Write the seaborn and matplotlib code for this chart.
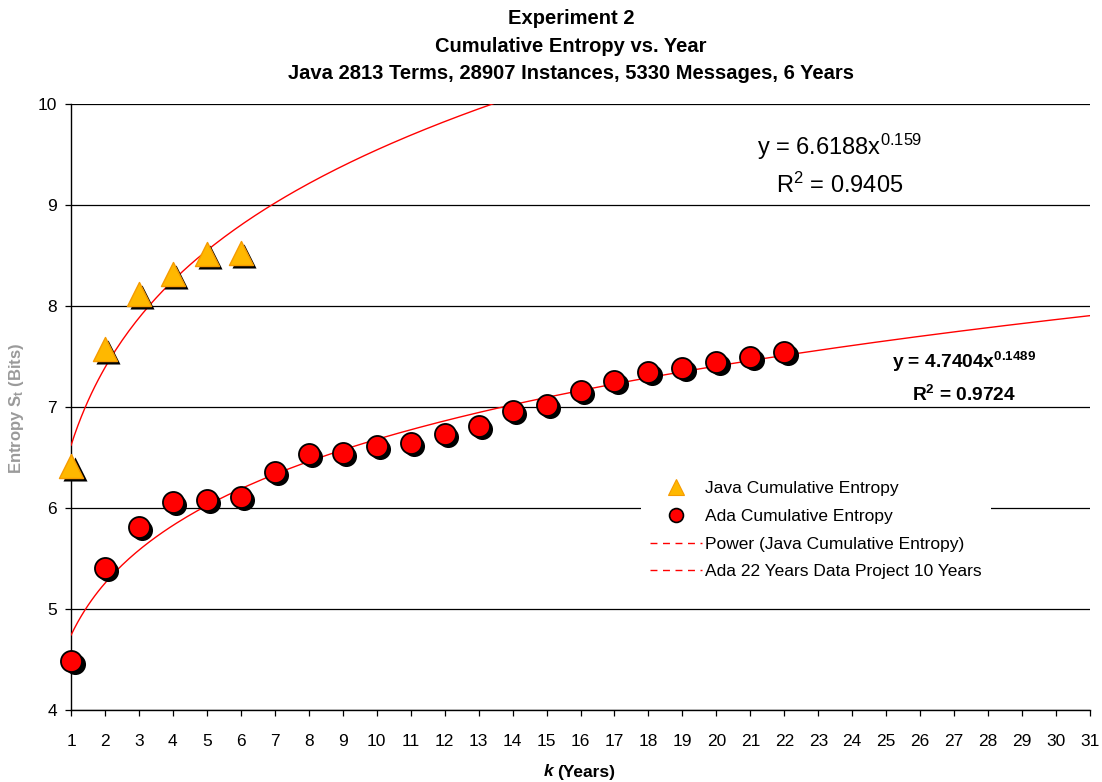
import numpy as np
import pandas as pd
import matplotlib
matplotlib.use("Agg")
import matplotlib.pyplot as plt
import matplotlib.transforms as mtransforms
from matplotlib.lines import Line2D
import seaborn as sns

# data
java_years = [1, 2, 3, 4, 5, 6]
java_entropy = [6.42, 7.57, 8.12, 8.32, 8.51, 8.52]

ada_years = list(range(1, 23))
ada_entropy = [4.49, 5.41, 5.81, 6.06, 6.08, 6.11, 6.36, 6.53, 6.54, 6.61, 6.64,
               6.73, 6.81, 6.96, 7.02, 7.16, 7.26, 7.35, 7.39, 7.45, 7.50, 7.54]

# power trendline coefficients shown on the chart
java_a, java_b = 6.6188, 0.159
ada_a, ada_b = 4.7404, 0.1489

df_java = pd.DataFrame({"k": java_years, "S": java_entropy})
df_ada = pd.DataFrame({"k": ada_years, "S": ada_entropy})
xs = np.linspace(1, 31, 300)
df_jfit = pd.DataFrame({"k": xs, "S": java_a * xs ** java_b})
df_afit = pd.DataFrame({"k": xs, "S": ada_a * xs ** ada_b})

sns.set_style("white")
plt.rcParams["font.family"] = ["Liberation Sans", "DejaVu Sans"]
plt.rcParams["mathtext.fontset"] = "custom"
plt.rcParams["mathtext.rm"] = "Liberation Sans"
plt.rcParams["mathtext.it"] = "Liberation Sans:italic"
plt.rcParams["mathtext.bf"] = "Liberation Sans:bold"
plt.rcParams["text.color"] = "black"

fig = plt.figure(figsize=(11.02, 7.82), dpi=100)
ax = fig.add_axes([71 / 1102, 72 / 782, 1019 / 1102, 606 / 782])

java_fill = "#FFB800"
java_edge = "#F59A00"
ada_fill = "#FF0000"

# trendlines
sns.lineplot(data=df_jfit, x="k", y="S", ax=ax, color="red", lw=1.0, zorder=3)
sns.lineplot(data=df_afit, x="k", y="S", ax=ax, color="red", lw=1.0, zorder=3)

shadow = mtransforms.offset_copy(ax.transData, fig=fig, x=3.5, y=-3.0, units="dots")

# Java triangles with shadow
sns.scatterplot(data=df_java, x="k", y="S", ax=ax, marker="^", s=300, color="black",
                edgecolor="black", linewidth=0, transform=shadow, zorder=4, clip_on=False)
sns.scatterplot(data=df_java, x="k", y="S", ax=ax, marker="^", s=300, color=java_fill,
                edgecolor=java_edge, linewidth=1.0, zorder=5, clip_on=False)

# Ada circles with shadow
sns.scatterplot(data=df_ada, x="k", y="S", ax=ax, marker="o", s=230, color="black",
                edgecolor="black", linewidth=0, transform=shadow, zorder=4, clip_on=False)
sns.scatterplot(data=df_ada, x="k", y="S", ax=ax, marker="o", s=230, color=ada_fill,
                edgecolor="black", linewidth=1.3, zorder=5, clip_on=False)

ax.set_xlim(1, 31)
ax.set_ylim(4, 10)
ax.set_xticks(range(1, 32))
ax.set_yticks(range(4, 11))
ax.yaxis.grid(True, color="black", lw=0.9)
ax.set_axisbelow(True)
for side in ["top", "right"]:
    ax.spines[side].set_visible(False)
for side in ["left", "bottom"]:
    ax.spines[side].set_color("black")
    ax.spines[side].set_linewidth(1.0)
ax.tick_params(axis="both", direction="out", length=4, width=0.9, color="black",
               labelsize=12.5, labelcolor="black", left=True, bottom=True)
ax.tick_params(axis="x", pad=13)
ax.tick_params(axis="y", pad=6)
ax.set_xlabel("")
ax.set_ylabel("")

# title
fig.text(0.518, 0.988, "Experiment 2\nCumulative Entropy vs. Year\n"
         "Java 2813 Terms, 28907 Instances, 5330 Messages, 6 Years",
         ha="center", va="top", fontsize=14.5, fontweight="bold", linespacing=1.55)

# axis labels
fig.text(553 / 1102, 1 - 772 / 782, "k", ha="right", va="center",
         fontsize=12.5, fontweight="bold", style="italic")
fig.text(557 / 1102, 1 - 772 / 782, "(Years)", ha="left", va="center",
         fontsize=12.5, fontweight="bold")
fig.text(17 / 1102, 1 - 408 / 782, "Entropy S$_\\mathbf{t}$ (Bits)", ha="center", va="center",
         rotation=90, fontsize=12, fontweight="bold", color="#9a9a9a")

# trendline equations
fig.text(840 / 1102, 1 - 147 / 782, "y = 6.6188x$^{\\mathrm{0.159}}$",
         ha="center", va="center", fontsize=17)
fig.text(840 / 1102, 1 - 185 / 782, "R$^{\\mathrm{2}}$ = 0.9405",
         ha="center", va="center", fontsize=17)
fig.text(964 / 1102, 1 - 362 / 782, "y = 4.7404x$^{\\mathbf{0.1489}}$",
         ha="center", va="center", fontsize=13.8, fontweight="bold")
fig.text(964 / 1102, 1 - 395 / 782, "R$^{\\mathbf{2}}$ = 0.9724",
         ha="center", va="center", fontsize=13.8, fontweight="bold")

# legend
handles = [
    Line2D([], [], ls="none", marker="^", ms=11, mfc=java_fill, mec=java_edge, mew=0.8),
    Line2D([], [], ls="none", marker="o", ms=10, mfc=ada_fill, mec="black", mew=1.2),
    Line2D([], [], color="red", lw=1.0, ls=(0, (5, 4))),
    Line2D([], [], color="red", lw=1.0, ls=(0, (5, 4))),
]
labels = ["Java Cumulative Entropy", "Ada Cumulative Entropy",
          "Power (Java Cumulative Entropy)", "Ada 22 Years Data Project 10 Years"]
leg = ax.legend(handles, labels, loc="upper left", bbox_to_anchor=(0.551, 0.406),
                frameon=True, fontsize=12.5, handlelength=3.0, handletextpad=0.2,
                labelspacing=0.72, borderpad=0.5, fancybox=False)
leg.get_frame().set_facecolor("white")
leg.get_frame().set_edgecolor("none")
leg.get_frame().set_alpha(1.0)

fig.savefig("out.png", dpi=100, facecolor="white")
